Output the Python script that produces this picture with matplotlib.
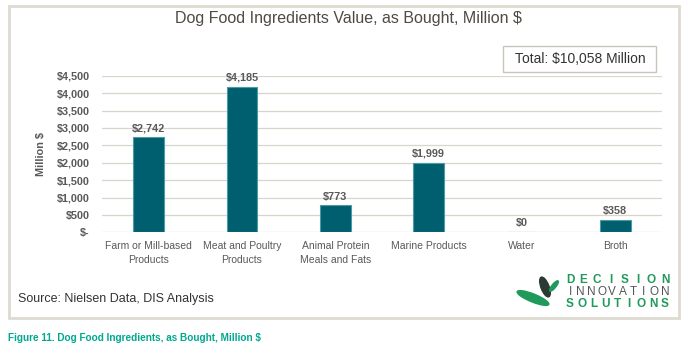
import numpy as np
import matplotlib.pyplot as plt
from matplotlib.patches import Rectangle, Ellipse
from matplotlib.ticker import FuncFormatter

categories = ['Farm or Mill-based\nProducts', 'Meat and Poultry\nProducts',
              'Animal Protein\nMeals and Fats', 'Marine Products', 'Water', 'Broth']
values = [2742, 4185, 773, 1999, 0, 358]
total_text = 'Total: $10,058 Million'

plt.rcParams['font.family'] = ['Liberation Sans', 'DejaVu Sans']
gray = '#595959'
teal = '#005f6e'
green = '#1f9a5a'

fig = plt.figure(figsize=(6.88, 3.55), dpi=100)
H = 3.55

def px(x, y):
    # pixel position (from top-left) -> inches for dpi_scale_trans
    return x / 100, H - y / 100

# outer frame of the chart
fig.patches.append(Rectangle(px(9, 318), 6.70, 3.12, transform=fig.dpi_scale_trans,
                             fill=False, edgecolor='#dedad0', linewidth=2))

ax = fig.add_axes([102 / 688, 1 - 232.3 / 355, 560 / 688, 156.6 / 355])
x = np.arange(len(values))
ax.bar(x, values, width=0.33, color=teal, edgecolor='#4a9aa8', linewidth=0.8, zorder=3)
for xi, v in zip(x, values):
    ax.text(xi, v + 110, f'${v:,}', ha='center', va='bottom', fontsize=7.8,
            fontweight='bold', color=gray)

ax.set_ylim(0, 4500)
ax.set_xlim(-0.5, len(values) - 0.5)
ax.set_yticks(range(0, 4501, 500))
ax.yaxis.set_major_formatter(FuncFormatter(lambda v, p: '$-' if v == 0 else f'${v:,.0f}'))
ax.grid(axis='y', color='#d9d5cc', linewidth=0.9, zorder=0)
for s in ax.spines.values():
    s.set_visible(False)
ax.tick_params(length=0, colors=gray)
ax.tick_params(axis='y', pad=9, labelsize=7.8)
ax.tick_params(axis='x', pad=6, labelsize=7.5)
for t in ax.get_yticklabels():
    t.set_fontweight('bold')
ax.set_xticks(x)
ax.set_xticklabels(categories, linespacing=1.6)
ax.set_ylabel('Million $', fontsize=7.8, fontweight='bold', color=gray)
ax.yaxis.set_label_coords(-0.10, 0.5)

fig.text(348 / 688, 1 - 19 / 355, 'Dog Food Ingredients Value, as Bought, Million $',
         ha='center', va='center', fontsize=11.5, color='#504a44')

# total box
fig.patches.append(Rectangle((503 / 688, 1 - 72 / 355), 153 / 688, 26 / 355,
                             transform=fig.transFigure, fill=True, facecolor='white',
                             edgecolor='#c8c4bb', linewidth=1))
fig.text(580 / 688, 1 - 59 / 355, total_text, ha='center', va='center',
         fontsize=10, color='#333333')

fig.text(18 / 688, 1 - 299 / 355, 'Source: Nielsen Data, DIS Analysis',
         ha='left', va='center', fontsize=9, color='#333333')

fig.text(8 / 688, 1 - 338 / 355, 'Figure 11. Dog Food Ingredients, as Bought, Million $',
         ha='left', va='center', fontsize=7.2, fontweight='bold', color='#00a88f')

# logo leaves
fig.patches.append(Ellipse(px(533, 298), 0.34, 0.08, angle=-22,
                           transform=fig.dpi_scale_trans, color=green))
fig.patches.append(Ellipse(px(545, 287), 0.21, 0.08, angle=-69,
                           transform=fig.dpi_scale_trans, color='#2b3a33'))
fig.patches.append(Ellipse(px(554, 286), 0.13, 0.04, angle=51,
                           transform=fig.dpi_scale_trans, color=green))

# logo words, letters spread evenly
logo = [('DECISION', 280, 'bold', green), ('INNOVATION', 292, 'normal', '#555555'),
        ('SOLUTIONS', 304, 'bold', green)]
for word, yy, wt, col in logo:
    xs = np.linspace(570, 665, len(word))
    for ch, xx in zip(word, xs):
        fig.text(xx / 688, 1 - yy / 355, ch, ha='center', va='center',
                 fontsize=8.5, fontweight=wt, color=col)

fig.savefig('out.png', dpi=100)
